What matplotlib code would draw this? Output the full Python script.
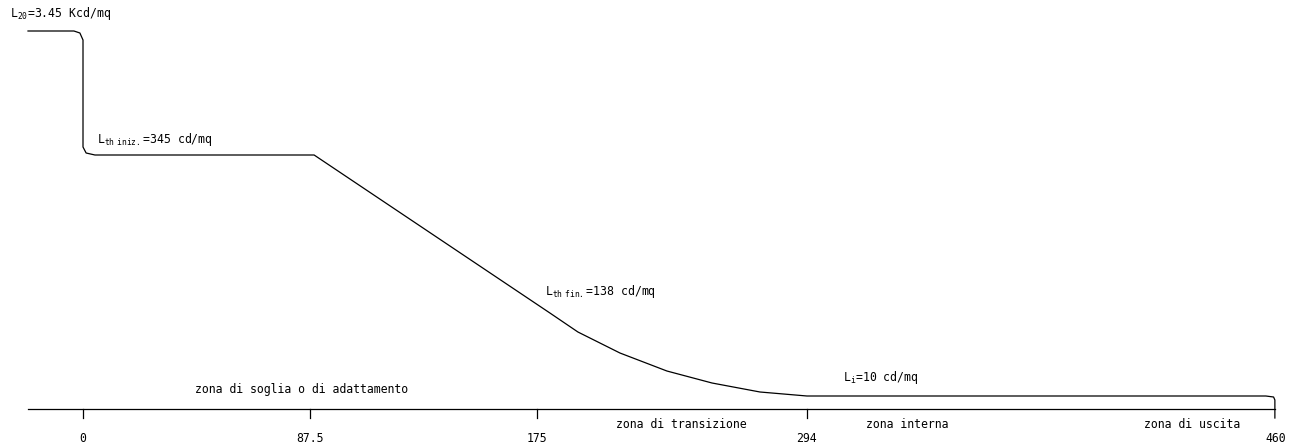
import matplotlib
matplotlib.use("Agg")
import matplotlib.pyplot as plt

# luminance curve, drawing units (x ~ metres, y ~ drawing height)
curve_x = [-21.2, -3.5, -1.2, 0.0, 0.0, 1.2, 4.6, 89.1, 180.0, 190.8, 207.0,
           225.1, 242.5, 261.0, 279.1, 456.0, 459.0, 459.5, 459.5]
curve_y = [378, 378, 376, 369, 262, 256, 254, 254, 96, 77, 56,
           38, 26, 17, 13, 13, 12, 9, -9]

# zone boundaries along the tunnel (drawn positions and their labels)
tick_x = [0, 87.5, 175, 279, 460]
tick_labels = ["0", "87.5", "175", "294", "460"]

zone_names = ["zona di soglia o di adattamento", "zona di transizione",
              "zona interna", "zona di uscita"]
zone_x = [84.4, 230.5, 317.7, 427.5]
zone_y = [19, -16, -16, -16]

lum_labels = [r"L$_\mathrm{20}$=3.45 Kcd/mq", r"L$_\mathrm{th\ iniz.}$=345 cd/mq",
              r"L$_\mathrm{th\ fin.}$=138 cd/mq", r"L$_\mathrm{i}$=10 cd/mq"]
lum_x = [-28.1, 5.4, 178.1, 293.0]
lum_y = [396, 269, 117, 31]

FONT = 'DejaVu Sans Mono'
plt.rcParams['font.family'] = FONT
plt.rcParams['mathtext.fontset'] = 'custom'
plt.rcParams['mathtext.rm'] = FONT
fig = plt.figure(figsize=(12.99, 4.47), dpi=100)
ax = fig.add_axes([0, 0, 1, 1])
ax.set_xlim(-32.0, 468.8)
ax.set_ylim(-38, 409)
ax.axis('off')

ax.plot(curve_x, curve_y, color='black', lw=0.9, solid_joinstyle='round')

# base line with ticks
ax.plot([-21.2, 459.5], [0, 0], color='black', lw=0.9)
for tx in tick_x[:-1]:
    ax.plot([tx, tx], [0, -9], color='black', lw=0.9)
for tx, tl in zip(tick_x, tick_labels):
    ax.text(tx, -29, tl, ha='center', va='center', fontsize=8.3)

for name, zx, zy in zip(zone_names, zone_x, zone_y):
    ax.text(zx, zy, name, ha='center', va='center', fontsize=8.3)

for lab, lx, ly in zip(lum_labels, lum_x, lum_y):
    ax.text(lx, ly, lab, ha='left', va='center', fontsize=8.3)

fig.savefig("out.png", dpi=100, facecolor='white')
